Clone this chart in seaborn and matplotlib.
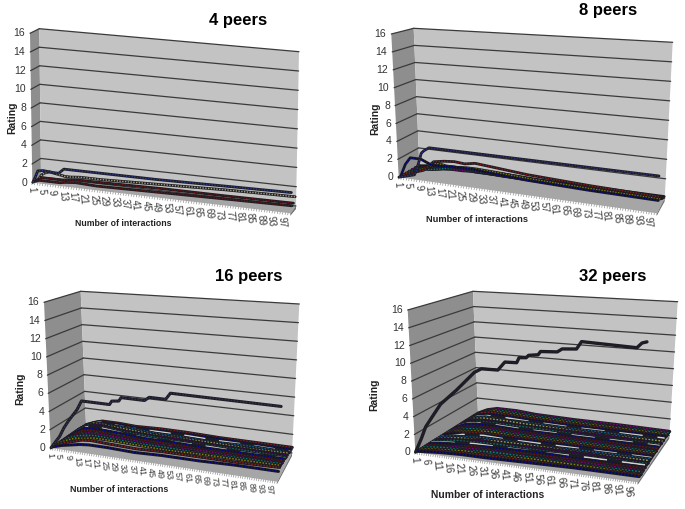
import numpy as np
import matplotlib
matplotlib.use("Agg")
import matplotlib.pyplot as plt
from matplotlib.transforms import Transform, Affine2D
import seaborn as sns

sns.set_style("white")
plt.rcParams['font.family'] = ['Liberation Sans', 'DejaVu Sans']

W, H = 685, 509

# values
rating_ticks = [0, 2, 4, 6, 8, 10, 12, 14, 16]
ticks_by4 = list(range(1, 98, 4))
ticks_by5 = list(range(1, 97, 5))

x_4 = [1, 2, 3, 5, 9, 11, 13, 17, 25, 49, 73, 100]
peers4_a = [0, .6, 1.3, 1.4, 1.3, 1.3, 1.8, 1.8, 1.8, 1.8, 1.9, 2.0]
peers4_b = [0, .4, .6, .8, .6, .5, .5, .6, .6, .8, 1.0, 1.1]
peers4_c = [0, .1, .3, .3, .3, .3, .4, .5, .5, .6, .6, .65]
peers4_d = [0, .1, .2, .2, .2, .2, .3, .4, .3, .4, .5, .6]
depth_4 = [.05, .8, .5, .2]

x_8top = [1, 7, 8, 10, 11, 13, 100]
peers8_top = [0, .5, 1.1, 3.0, 3.3, 3.7, 3.6]
x_8 = [1, 3, 5, 9, 13, 17, 21, 25, 29, 37, 49, 73, 100]
peers8_low = [
    [0, 1.4, 2.2, 2.2, 1.7, 1.7, 1.8, 1.8, 1.8, 1.6, 1.4, 1.2, 1.1],
    [0, .2, .4, .8, 1.9, 2.1, 2.2, 2.1, 2.3, 2.1, 1.8, 1.5, 1.3],
    [0, .2, .3, .9, 1.6, 1.4, 1.4, 1.5, 1.5, 1.4, 1.2, 1.0, .9],
    [0, .1, .4, .5, .7, 1.0, 1.2, 1.1, 1.0, .9, .8, .7, .7],
    [0, .1, .3, .3, .5, .6, .6, .7, .7, .6, .6, .5, .5],
    [0, .1, .2, .3, .4, .4, .5, .4, .4, .4, .4, .4, .4],
    [0, .1, .2, .2, .3, .3, .3, .3, .4, .4, .3, .3, .3],
]
depth_8 = [.1, .22, .35, .5, .65, .8, .92]

x_16top = [1, 3, 5, 7, 9, 11, 13, 15, 27, 28, 31, 32, 42, 44, 51, 53, 100]
peers16_top = [0, .7, 1.4, 2.4, 3.2, 3.9, 4.6, 5.6, 5.6, 6.0, 6.1, 6.5, 6.5, 6.9, 6.9, 7.6, 7.6]
x_16 = [1, 5, 9, 13, 17, 25, 37, 49, 65, 81, 100]
peers16_low = [
    [0, .3, .5, .7, .8, .8, .7, .8, .8, .9, .9],
    [0, .4, .7, 1.0, 1.1, 1.0, .9, 1.0, 1.0, 1.0, 1.1],
    [0, .5, .9, 1.0, 1.2, 1.2, 1.1, 1.0, 1.1, 1.1, 1.1],
    [0, .6, 1.0, 1.2, 1.3, 1.2, 1.1, 1.1, 1.0, 1.1, 1.1],
    [0, .6, 1.0, 1.3, 1.3, 1.3, 1.1, 1.0, 1.1, 1.0, 1.0],
    [0, .6, 1.2, 1.4, 1.4, 1.2, 1.1, 1.1, 1.0, 1.0, 1.0],
    [0, .7, 1.3, 1.4, 1.4, 1.3, 1.1, 1.1, 1.0, 1.0, 1.0],
    [0, .7, 1.3, 1.5, 1.4, 1.2, 1.0, 1.0, 1.0, .9, .9],
    [0, .8, 1.3, 1.3, 1.3, 1.1, 1.0, .9, .9, .9, .8],
    [0, .7, 1.2, 1.3, 1.2, 1.0, .9, .9, .8, .8, .8],
    [0, .7, 1.2, 1.2, 1.1, 1.0, .8, .8, .8, .7, .8],
    [0, .7, 1.1, 1.1, 1.0, 1.0, .8, .8, .7, .8, .7],
    [0, .5, 1.0, 1.0, .9, .8, .8, .8, .7, .7, .6],
    [0, .4, .8, .8, .8, .7, .7, .7, .7, .6, .6],
    [0, .4, .7, .7, .7, .6, .7, .7, .6, .6, .6],
]
depth_16 = [.05, .12, .19, .25, .32, .39, .46, .52, .59, .66, .73, .79, .86, .93, 1.0]

x_32top = [1, 4, 6, 10, 13, 20, 28, 31, 38, 41, 46, 47, 50, 51, 55, 56, 63, 65, 71, 73, 96, 98, 100]
peers32_top = [0, 1.7, 3.0, 4.6, 5.8, 7.6, 9.9, 10.4, 10.5, 11.5, 11.6, 12.2, 12.3, 12.6, 12.8, 13.2, 13.4, 13.8, 14.0, 14.9, 15.0, 15.6, 15.8]
x_32 = [1, 6, 11, 21, 31, 51, 71, 100]
peers32_low = [
    [0, .1, .2, .3, .3, .4, .5, .5],
    [0, .1, .2, .3, .4, .4, .4, .5],
    [0, .1, .2, .4, .3, .5, .5, .4],
    [0, .2, .3, .3, .5, .5, .4, .5],
    [0, .1, .3, .4, .5, .4, .5, .5],
    [0, .1, .2, .5, .4, .5, .5, .6],
    [0, .2, .3, .4, .5, .6, .5, .5],
    [0, .2, .3, .5, .5, .5, .6, .6],
    [0, .2, .4, .5, .6, .5, .5, .6],
    [0, .2, .3, .6, .5, .6, .6, .5],
    [0, .2, .4, .5, .6, .6, .5, .6],
    [0, .3, .4, .6, .6, .5, .6, .6],
    [0, .2, .5, .7, .6, .6, .6, .6],
    [0, .3, .4, .6, .6, .6, .6, .6],
    [0, .3, .5, .6, .6, .6, .6, .6],
    [0, .3, .5, .7, .6, .6, .6, .6],
    [0, .3, .6, .7, .6, .6, .6, .6],
    [0, .4, .6, .7, .6, .6, .6, .5],
    [0, .4, .6, .7, .6, .6, .6, .6],
    [0, .5, .7, .7, .6, .6, .6, .6],
    [0, .5, .7, .7, .6, .6, .6, .6],
    [0, .5, .7, .7, .7, .6, .5, .6],
    [0, .6, .7, .7, .6, .6, .6, .5],
    [0, .6, .8, .8, .7, .6, .5, .6],
    [0, .6, .8, .7, .7, .6, .6, .5],
    [0, .6, .8, .8, .7, .6, .6, .6],
    [0, .6, .8, .8, .7, .6, .6, .6],
    [0, .7, .9, .8, .7, .6, .6, .5],
    [0, .6, .9, .8, .7, .6, .6, .5],
    [0, .6, .9, .8, .7, .6, .5, .5],
    [0, .6, .9, .9, .7, .6, .6, .5],
]
depth_32 = list(np.arange(31) / 30 * .97 + .03)

ribbon_colors = ['#000080', '#8b1a1a', '#808000', '#008080', '#800080', '#6e1010',
                 '#0000a0', '#d2d2d2', '#106a6a', '#4b0060', '#9a9a50', '#0a5f9a', '#d2d2d2']
title_size = 12


class Wall(Transform):
    """Maps (interaction, rating) at one depth of the box to display pixels."""
    input_dims = 2
    output_dims = 2

    def __init__(self, box, dep, xmax):
        super().__init__()
        self.box = box
        self.dep = dep
        self.xmax = xmax

    def transform_non_affine(self, values):
        values = np.asarray(values, dtype=float)
        u = (values[:, 0] - 1) / (self.xmax - 1)
        r = values[:, 1] / 16
        b = self.box
        d = self.dep
        out = []
        for i in [0, 1]:
            bottom = (1 - d) * (b['fbl'][i] + u * (b['fbr'][i] - b['fbl'][i])) + d * (b['bbl'][i] + u * (b['bbr'][i] - b['bbl'][i]))
            top = (1 - d) * (b['ftl'][i] + u * (b['ftr'][i] - b['ftl'][i])) + d * (b['btl'][i] + u * (b['btr'][i] - b['btl'][i]))
            out.append(bottom + r * (top - bottom))
        return np.column_stack([out[0], H - out[1]])


def make_box(ftl, fbl, fbr, btl, bbl, btr, bbr):
    ftr = (fbr[0] + 1.06 * (btr[0] - bbr[0]), fbr[1] + 1.06 * (btr[1] - bbr[1]))
    return dict(ftl=ftl, fbl=fbl, fbr=fbr, ftr=ftr, btl=btl, bbl=bbl, btr=btr, bbr=bbr)


def draw_ribbon(ax, x, y, tr, color, lw):
    sns.lineplot(x=x, y=y, ax=ax, color='#1c1c22', linewidth=lw, transform=tr, sort=False,
                 estimator=None, errorbar=None, legend=False, zorder=5)
    # pale ribbons show as long broken highlights, the others as fine dots
    style = (0, (14, 9)) if color == '#d2d2d2' else (0, (1, 1))
    sns.lineplot(x=x, y=y, ax=ax, color=color, linewidth=lw * .5, linestyle=style, transform=tr, sort=False,
                 estimator=None, errorbar=None, legend=False, zorder=5)


def draw_panel(box, title, title_xy, ticks, tick_size, rating_xy, xlabel_xy, xlabel_size, series, lw):
    ax = fig.add_axes([0, 0, 1, 1])
    ax.set_axis_off()
    ax.patch.set_alpha(0)
    ax.set_xlim(1, 100)
    ax.set_ylim(0, 16)
    pix = Affine2D().scale(1, -1).translate(0, H)
    xmax = 100
    front = Wall(box, 0, xmax)
    back = Wall(box, 1, xmax)

    for keys, col in [(['ftl', 'btl', 'bbl', 'fbl'], '#8e8e8e'),
                      (['btl', 'btr', 'bbr', 'bbl'], '#c3c3c3'),
                      (['fbl', 'bbl', 'bbr', 'fbr'], '#a6a6a6')]:
        pts = np.array([box[k] for k in keys])
        ax.fill(pts[:, 0], pts[:, 1], color=col, lw=0, transform=pix, zorder=1)
    # thin edge of the floor slab on the right
    edge = np.array([box['fbr'], box['bbr'], (box['bbr'][0], box['bbr'][1] + 3), (box['fbr'][0], box['fbr'][1] + 2)])
    ax.fill(edge[:, 0], edge[:, 1], color='#707070', lw=0, transform=pix, zorder=1)

    for r in rating_ticks:
        a = front.transform_non_affine(np.array([[1, r]]))[0]
        b = back.transform_non_affine(np.array([[1, r]]))[0]
        ax.plot([a[0], b[0]], [a[1], b[1]], color='#3a3a3a', lw=.9, transform=Affine2D(), zorder=2)
        ax.plot([1, 100], [r, r], color='#3a3a3a', lw=.9, transform=back, zorder=2)
        ax.text(a[0] - 5, a[1], str(r), ha='right', va='center', fontsize=7.5, color='#333333', transform=Affine2D(), zorder=6)

    # small comb of tick marks under the front edge
    comb = np.arange(1, 101)
    for t in comb:
        a = front.transform_non_affine(np.array([[t, 0]]))[0]
        ax.plot([a[0], a[0] - .4], [a[1], a[1] - 2], color='#777777', lw=.4, transform=Affine2D(), zorder=2)
    for t in ticks:
        a = front.transform_non_affine(np.array([[t, 0]]))[0]
        ax.text(a[0] - 1, a[1] - 4, str(t), ha='center', va='top', rotation=-85, fontsize=tick_size, color='#3c3c3c',
                transform=Affine2D(), zorder=6)

    # draw back to front so nearer ribbons cover deeper ones
    for x, y, d, col in sorted(series, key=lambda s: -s[2]):
        draw_ribbon(ax, x, y, Wall(box, d, xmax), col, lw)

    ax.text(title_xy[0], title_xy[1], title, ha='center', va='center', fontsize=title_size, fontweight='bold', color='black', transform=pix)
    ax.text(rating_xy[0], rating_xy[1], 'Rating', ha='center', va='center', rotation=90, fontsize=7.5, fontweight='bold', color='#222222', transform=pix)
    ax.text(xlabel_xy[0], xlabel_xy[1], 'Number of interactions', ha='center', va='center', fontsize=xlabel_size, fontweight='bold', color='#222222', transform=pix)
    ax.set_xlabel('')
    ax.set_ylabel('')


fig = plt.figure(figsize=(W / 100, H / 100), dpi=100, facecolor='white')

box4 = make_box((30, 33.3), (32.3, 182.7), (290.7, 213.3), (39.3, 28.7), (41, 177), (299, 51.7), (296, 206))
box8 = make_box((391.3, 34), (398.7, 177.3), (657, 213.3), (413.7, 28.3), (419.3, 165), (672.7, 42.3), (664.7, 198.3))
box16 = make_box((44, 302.3), (50.7, 448), (277.3, 481.7), (80.7, 291.3), (86, 424.7), (299.3, 304), (292, 453))
box32 = make_box((407.7, 310), (415.3, 452.3), (638, 482.3), (473, 291.3), (478, 413.3), (677.7, 301.7), (669.3, 435.7))

series4 = [(x_4, v, d, c) for v, d, c in zip([peers4_a, peers4_b, peers4_c, peers4_d], depth_4,
                                             ['#2a3a90', '#a0a080', '#6e1010', '#5a1a1a'])]
series8 = [(x_8top, peers8_top, .01, '#303080')]
series8 += [(x_8, v, d, ribbon_colors[i % 13]) for i, (v, d) in enumerate(zip(peers8_low, depth_8))]
series16 = [(x_16top, peers16_top, .01, '#303050')]
series16 += [(x_16, v, d, ribbon_colors[i % 13]) for i, (v, d) in enumerate(zip(peers16_low, depth_16))]
series32 = [(x_32top, peers32_top, .005, '#202030')]
series32 += [(x_32, v, d, ribbon_colors[i % 13]) for i, (v, d) in enumerate(zip(peers32_low, depth_32))]

draw_panel(box4, '4 peers', (238, 20), ticks_by4, 7, (12, 118), (123, 224), 6.3, series4, 2.0)
draw_panel(box8, '8 peers', (608, 10), ticks_by4, 7, (375, 119), (477, 219), 6.7, series8, 2.0)
draw_panel(box16, '16 peers', (249, 276), ticks_by4, 6.5, (20, 389), (119, 490), 6.4, series16, 2.2)
draw_panel(box32, '32 peers', (613, 276), ticks_by5, 7.5, (374, 395), (488, 495), 7.4, series32, 2.4)

fig.savefig('out.png', dpi=100)
